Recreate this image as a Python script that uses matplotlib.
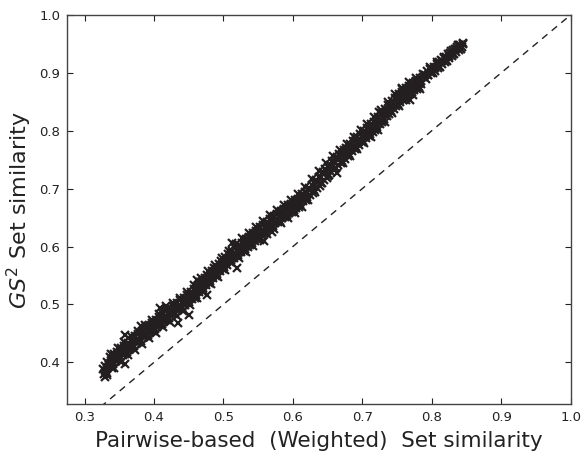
import matplotlib
matplotlib.use("Agg")
import matplotlib.pyplot as plt

# pairwise-based (weighted) set similarity vs GS^2 set similarity
pairwise = [
    0.327, 0.328, 0.330, 0.333, 0.359,
    0.331, 0.333, 0.335, 0.337, 0.339,
    0.341, 0.343, 0.345, 0.347, 0.349,
    0.351, 0.353, 0.355, 0.357, 0.359,
    0.361, 0.363, 0.365, 0.367, 0.369,
    0.371, 0.373, 0.375, 0.377, 0.379,
    0.381, 0.383, 0.385, 0.387, 0.389,
    0.391, 0.393, 0.395, 0.397, 0.399,
    0.401, 0.403, 0.405, 0.407, 0.409,
    0.411, 0.413, 0.415, 0.417, 0.419,
    0.421, 0.423, 0.425, 0.427, 0.429,
    0.431, 0.433, 0.435, 0.437, 0.439,
    0.441, 0.443, 0.445, 0.447, 0.449,
    0.451, 0.453, 0.455, 0.457, 0.459,
    0.461, 0.463, 0.465, 0.467, 0.469,
    0.471, 0.473, 0.475, 0.477, 0.479,
    0.481, 0.483, 0.485, 0.487, 0.489,
    0.491, 0.493, 0.495, 0.497, 0.499,
    0.501, 0.503, 0.505, 0.507, 0.509,
    0.511, 0.513, 0.515, 0.517, 0.519,
    0.521, 0.523, 0.525, 0.527, 0.529,
    0.531, 0.533, 0.535, 0.537, 0.539,
    0.541, 0.543, 0.545, 0.547, 0.549,
    0.551, 0.553, 0.555, 0.557, 0.559,
    0.561, 0.563, 0.565, 0.567, 0.569,
    0.571, 0.573, 0.575, 0.577, 0.579,
    0.581, 0.583, 0.585, 0.587, 0.589,
    0.591, 0.593, 0.595, 0.597, 0.599,
    0.601, 0.603, 0.605, 0.607, 0.609,
    0.611, 0.613, 0.615, 0.617, 0.619,
    0.621, 0.623, 0.625, 0.627, 0.629,
    0.631, 0.633, 0.635, 0.637, 0.639,
    0.641, 0.643, 0.645, 0.647, 0.649,
    0.651, 0.653, 0.655, 0.657, 0.659,
    0.661, 0.663, 0.665, 0.667, 0.669,
    0.671, 0.673, 0.675, 0.677, 0.679,
    0.681, 0.683, 0.685, 0.687, 0.689,
    0.691, 0.693, 0.695, 0.697, 0.699,
    0.701, 0.703, 0.705, 0.707, 0.709,
    0.711, 0.713, 0.715, 0.717, 0.719,
    0.721, 0.723, 0.725, 0.727, 0.729,
    0.731, 0.733, 0.735, 0.737, 0.739,
    0.741, 0.743, 0.745, 0.747, 0.749,
    0.751, 0.753, 0.755, 0.757, 0.759,
    0.761, 0.763, 0.765, 0.767, 0.769,
    0.771, 0.773, 0.775, 0.777, 0.779,
    0.781, 0.783, 0.785, 0.787,
    0.791, 0.793, 0.795, 0.797, 0.799,
    0.801, 0.803, 0.805, 0.807, 0.809,
    0.811, 0.813, 0.815, 0.817, 0.819,
    0.821, 0.823, 0.825, 0.827, 0.829,
    0.831, 0.833, 0.835, 0.837, 0.839,
    0.841, 0.843, 0.845,
    # stray points
    0.359, 0.381, 0.409, 0.417, 0.435, 0.450, 0.462, 0.477,
    0.513, 0.520, 0.558, 0.570, 0.664, 0.724, 0.757, 0.769,
]
gs2 = [
    0.388, 0.380, 0.374, 0.379, 0.398,
    0.385, 0.401, 0.395, 0.409, 0.390,
    0.398, 0.414, 0.403, 0.418, 0.405,
    0.409, 0.424, 0.412, 0.428, 0.415,
    0.418, 0.434, 0.423, 0.438, 0.426,
    0.428, 0.445, 0.433, 0.449, 0.436,
    0.437, 0.455, 0.443, 0.459, 0.446,
    0.448, 0.465, 0.452, 0.468, 0.455,
    0.457, 0.474, 0.461, 0.478, 0.464,
    0.467, 0.484, 0.471, 0.488, 0.474,
    0.476, 0.493, 0.480, 0.497, 0.483,
    0.486, 0.503, 0.490, 0.507, 0.492,
    0.495, 0.512, 0.499, 0.516, 0.502,
    0.505, 0.522, 0.509, 0.527, 0.512,
    0.516, 0.534, 0.521, 0.539, 0.524,
    0.528, 0.546, 0.533, 0.551, 0.537,
    0.540, 0.558, 0.545, 0.563, 0.549,
    0.552, 0.570, 0.557, 0.575, 0.561,
    0.564, 0.582, 0.569, 0.587, 0.573,
    0.576, 0.593, 0.580, 0.597, 0.583,
    0.586, 0.603, 0.590, 0.607, 0.593,
    0.596, 0.613, 0.600, 0.617, 0.603,
    0.606, 0.623, 0.610, 0.627, 0.613,
    0.616, 0.633, 0.620, 0.637, 0.623,
    0.626, 0.643, 0.630, 0.647, 0.633,
    0.636, 0.653, 0.640, 0.656, 0.642,
    0.645, 0.662, 0.649, 0.665, 0.651,
    0.654, 0.671, 0.658, 0.674, 0.660,
    0.663, 0.680, 0.667, 0.683, 0.669,
    0.674, 0.691, 0.678, 0.694, 0.680,
    0.685, 0.702, 0.689, 0.706, 0.692,
    0.697, 0.715, 0.702, 0.720, 0.705,
    0.710, 0.728, 0.715, 0.734, 0.719,
    0.722, 0.741, 0.728, 0.747, 0.732,
    0.735, 0.754, 0.741, 0.760, 0.745,
    0.748, 0.766, 0.752, 0.771, 0.756,
    0.760, 0.778, 0.765, 0.783, 0.768,
    0.772, 0.789, 0.776, 0.794, 0.780,
    0.783, 0.800, 0.787, 0.805, 0.791,
    0.794, 0.811, 0.798, 0.816, 0.802,
    0.806, 0.824, 0.811, 0.830, 0.815,
    0.820, 0.838, 0.825, 0.844, 0.829,
    0.834, 0.851, 0.838, 0.856, 0.842,
    0.846, 0.863, 0.850, 0.867, 0.853,
    0.857, 0.874, 0.861, 0.877, 0.864,
    0.867, 0.883, 0.871, 0.886, 0.873,
    0.876, 0.891, 0.880, 0.893,
    0.897, 0.904, 0.896, 0.906, 0.900,
    0.901, 0.911, 0.904, 0.915, 0.908,
    0.912, 0.922, 0.915, 0.925, 0.918,
    0.922, 0.932, 0.925, 0.935, 0.929,
    0.933, 0.942, 0.936, 0.945, 0.939,
    0.948, 0.944, 0.951,
    0.448, 0.462, 0.494, 0.497, 0.468, 0.482, 0.543, 0.517,
    0.606, 0.563, 0.609, 0.626, 0.727, 0.833, 0.873, 0.853,
]

# points along the middle of the band
pairwise_mid = [
    0.330, 0.335, 0.340, 0.345, 0.350, 0.355, 0.360, 0.365, 0.370, 0.375,
    0.380, 0.385, 0.390, 0.395, 0.400, 0.405, 0.410, 0.415, 0.420, 0.425,
    0.430, 0.435, 0.440, 0.445, 0.450, 0.455, 0.460, 0.465, 0.470, 0.475,
    0.480, 0.485, 0.490, 0.495, 0.500, 0.505, 0.510, 0.515, 0.520, 0.525,
    0.530, 0.535, 0.540, 0.545, 0.550, 0.555, 0.560, 0.565, 0.570, 0.575,
    0.580, 0.585, 0.590, 0.595, 0.600, 0.605, 0.610, 0.615, 0.620, 0.625,
    0.630, 0.635, 0.640, 0.645, 0.650, 0.655, 0.660, 0.665, 0.670, 0.675,
    0.680, 0.685, 0.690, 0.695, 0.700, 0.705, 0.710, 0.715, 0.720, 0.725,
    0.730, 0.735, 0.740, 0.745, 0.750, 0.755, 0.760, 0.765, 0.770, 0.775,
    0.780, 0.785, 0.790, 0.795, 0.800, 0.805, 0.810, 0.815, 0.820, 0.825,
    0.830, 0.835, 0.840, 0.845,
]
gs2_mid = [
    0.394, 0.395, 0.404, 0.406, 0.416, 0.417, 0.425, 0.427, 0.437, 0.437,
    0.445, 0.447, 0.457, 0.456, 0.464, 0.466, 0.476, 0.475, 0.483, 0.485,
    0.495, 0.494, 0.502, 0.504, 0.514, 0.515, 0.524, 0.527, 0.538, 0.539,
    0.548, 0.551, 0.562, 0.563, 0.572, 0.575, 0.586, 0.586, 0.594, 0.596,
    0.606, 0.606, 0.614, 0.616, 0.626, 0.626, 0.634, 0.636, 0.646, 0.645,
    0.653, 0.655, 0.664, 0.663, 0.671, 0.673, 0.683, 0.684, 0.693, 0.697,
    0.709, 0.711, 0.721, 0.725, 0.737, 0.738, 0.747, 0.749, 0.759, 0.759,
    0.768, 0.771, 0.782, 0.782, 0.791, 0.793, 0.804, 0.804, 0.813, 0.817,
    0.829, 0.831, 0.841, 0.844, 0.856, 0.856, 0.865, 0.867, 0.877, 0.876,
    0.884, 0.886, 0.896, 0.897, 0.906, 0.909, 0.918, 0.920, 0.927, 0.930,
    0.939, 0.941, 0.948, 0.950,
]

# points along the upper and lower edges of the band
pairwise_edge = [
    0.3325, 0.3375, 0.3425, 0.3475, 0.3525, 0.3575, 0.3625, 0.3675, 0.3725, 0.3775,
    0.3825, 0.3875, 0.3925, 0.3975, 0.4025, 0.4075, 0.4125, 0.4175, 0.4225, 0.4275,
    0.4325, 0.4375, 0.4425, 0.4475, 0.4525, 0.4575, 0.4625, 0.4675, 0.4725, 0.4775,
    0.4825, 0.4875, 0.4925, 0.4975, 0.5025, 0.5075, 0.5125, 0.5175, 0.5225, 0.5275,
    0.5325, 0.5375, 0.5425, 0.5475, 0.5525, 0.5575, 0.5625, 0.5675, 0.5725, 0.5775,
    0.5825, 0.5875, 0.5925, 0.5975, 0.6025, 0.6075, 0.6125, 0.6175, 0.6225, 0.6275,
    0.6325, 0.6375, 0.6425, 0.6475, 0.6525, 0.6575, 0.6625, 0.6675, 0.6725, 0.6775,
    0.6825, 0.6875, 0.6925, 0.6975, 0.7025, 0.7075, 0.7125, 0.7175, 0.7225, 0.7275,
    0.7325, 0.7375, 0.7425, 0.7475, 0.7525, 0.7575, 0.7625, 0.7675, 0.7725, 0.7775,
    0.7825, 0.7875, 0.7925, 0.7975, 0.8025, 0.8075, 0.8125, 0.8175, 0.8225, 0.8275,
    0.8325, 0.8375, 0.8425,
]
gs2_edge = [
    0.381, 0.414, 0.391, 0.424, 0.401, 0.435, 0.412, 0.445, 0.422, 0.455,
    0.432, 0.465, 0.442, 0.474, 0.451, 0.484, 0.461, 0.493, 0.470, 0.503,
    0.480, 0.512, 0.489, 0.522, 0.499, 0.533, 0.511, 0.545, 0.523, 0.557,
    0.535, 0.569, 0.547, 0.581, 0.559, 0.593, 0.571, 0.604, 0.581, 0.614,
    0.591, 0.624, 0.601, 0.634, 0.611, 0.644, 0.621, 0.654, 0.631, 0.663,
    0.640, 0.672, 0.649, 0.681, 0.658, 0.691, 0.668, 0.703, 0.681, 0.716,
    0.695, 0.730, 0.709, 0.744, 0.723, 0.757, 0.735, 0.767, 0.745, 0.777,
    0.756, 0.789, 0.768, 0.801, 0.779, 0.812, 0.790, 0.823, 0.802, 0.836,
    0.816, 0.850, 0.830, 0.863, 0.842, 0.874, 0.853, 0.884, 0.862, 0.892,
    0.872, 0.898, 0.890, 0.910, 0.900, 0.918, 0.911, 0.928, 0.921, 0.938,
    0.932, 0.948, 0.941,
]

xticks = [0.3, 0.4, 0.5, 0.6, 0.7, 0.8, 0.9, 1.0]
yticks = [0.4, 0.5, 0.6, 0.7, 0.8, 0.9, 1.0]

fig = plt.figure(figsize=(5.84, 4.54), dpi=100)
ax = fig.add_axes([0.115, 0.110, 0.862, 0.857])

ax.plot([0, 1], [0, 1], color="#222222", linestyle="--", linewidth=1.0, dashes=(5, 4))
mk = dict(linestyle="none", marker="x", markersize=5.5, markeredgewidth=1.6, color="#231f20")
ax.plot(pairwise, gs2, **mk)
ax.plot(pairwise_mid, gs2_mid, **mk)
ax.plot(pairwise_edge, gs2_edge, **mk)

ax.set_xlim(0.275, 1.0)
ax.set_ylim(0.328, 1.0)
ax.set_xticks(xticks)
ax.set_yticks(yticks)
ax.set_xticklabels(["%.1f" % t for t in xticks])
ax.set_yticklabels(["%.1f" % t for t in yticks])
ax.tick_params(direction="in", length=4, width=0.8, top=True, right=True,
               labelsize=9.5, colors="#222222", pad=5)
for s in ax.spines.values():
    s.set_linewidth(1.0)
    s.set_color("#444444")

ax.set_xlabel("Pairwise-based  (Weighted)  Set similarity", fontsize=15.5,
              color="#222222", labelpad=5)
ax.set_ylabel(r"$GS^2$ Set similarity", fontsize=16, color="#222222", labelpad=4)

fig.savefig("out.png", dpi=100)
